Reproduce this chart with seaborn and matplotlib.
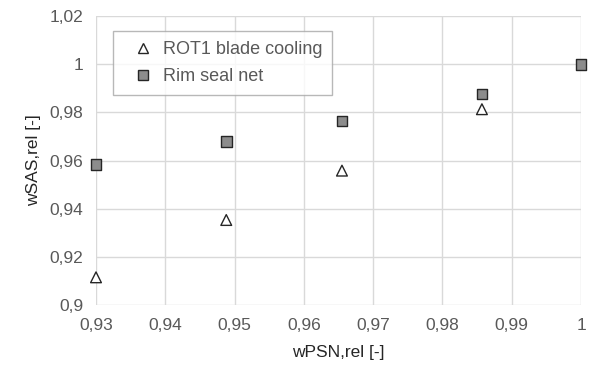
import matplotlib
matplotlib.use("Agg")
import matplotlib.pyplot as plt
import seaborn as sns
import pandas as pd
from matplotlib.ticker import FuncFormatter

x_vals = [0.93, 0.9488, 0.9655, 0.9857, 1.0]
blade_cooling = [0.9115, 0.9353, 0.9558, 0.9813, None]
rim_seal = [0.9584, 0.968, 0.9764, 0.9876, 1.0]
series_names = ["ROT1 blade cooling", "Rim seal net"]

rows = []
for x, y in zip(x_vals, blade_cooling):
    if y is not None:
        rows.append({"x": x, "y": y, "s": series_names[0]})
for x, y in zip(x_vals, rim_seal):
    rows.append({"x": x, "y": y, "s": series_names[1]})
df = pd.DataFrame(rows)

sns.set_style("white")
plt.rcParams["font.family"] = ["Liberation Sans", "DejaVu Sans"]

fig = plt.figure(figsize=(5.97, 3.69), dpi=100)
ax = fig.add_axes([96/597, 1-305/369, (581-96)/597, (305-16)/369])

sns.scatterplot(data=df, x="x", y="y", hue="s", style="s",
                palette={series_names[0]: "white", series_names[1]: "#8c8c8c"},
                markers={series_names[0]: "^", series_names[1]: "s"},
                edgecolor="#262626", linewidth=1.0, s=60, ax=ax, zorder=3,
                clip_on=False)

ax.set_xlim(0.93, 1.0)
ax.set_ylim(0.9, 1.02)
ax.set_xticks([0.93, 0.94, 0.95, 0.96, 0.97, 0.98, 0.99, 1.0])
ax.set_yticks([0.9, 0.92, 0.94, 0.96, 0.98, 1.0, 1.02])

def fmt(v, pos):
    s = f"{v:.2f}".rstrip("0").rstrip(".")
    return s.replace(".", ",")

ax.xaxis.set_major_formatter(FuncFormatter(fmt))
ax.yaxis.set_major_formatter(FuncFormatter(fmt))
ax.grid(True, color="#d9d9d9", linewidth=1.0)
ax.set_axisbelow(True)
for sp in ax.spines.values():
    sp.set_visible(False)
ax.tick_params(axis="both", colors="#595959", labelsize=12.5, length=0, pad=9)
ax.set_xlabel("wPSN,rel [-]", fontsize=12.5, color="#262626", labelpad=9)
ax.set_ylabel("wSAS,rel [-]", fontsize=12.5, color="#262626", labelpad=6)

leg = ax.legend(loc="upper left", bbox_to_anchor=(17/485, 1-15/289), frameon=True,
                fontsize=13, handletextpad=0.0, borderpad=0.55, labelspacing=0.55,
                fancybox=False, handlelength=2.2, borderaxespad=0,
                markerscale=0.85)
leg.get_frame().set_edgecolor("#a6a6a6")
leg.get_frame().set_linewidth(1.0)
for t in leg.get_texts():
    t.set_color("#595959")

fig.savefig("out.png", dpi=100)
